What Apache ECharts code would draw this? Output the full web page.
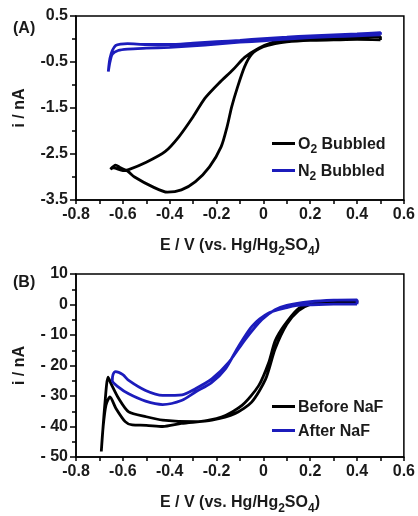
<!DOCTYPE html>
<html>
<head>
<meta charset="utf-8">
<script src="https://cdn.jsdelivr.net/npm/echarts@6/dist/echarts.min.js"></script>
<style>html,body{margin:0;padding:0;background:#fff;}#c{width:418px;height:516px;}</style>
</head>
<body>
<div id="c"></div>
<script>
// Panel A: O2 bubbled (black)
var o2E = [0.5, 0.4, 0.3, 0.2, 0.1, 0.05, 0.0, -0.05, -0.08, -0.11, -0.135, -0.155, -0.18, -0.23, -0.29, -0.35, -0.41, -0.47, -0.55, -0.58, -0.61, -0.631, -0.653,
           -0.64, -0.6, -0.575, -0.5, -0.42, -0.36, -0.3, -0.25, -0.19, -0.13, -0.08, -0.02, 0.04, 0.1, 0.2, 0.3, 0.4, 0.5, 0.5];
var o2I = [-0.02, -0.01, -0.02, -0.03, -0.06, -0.1, -0.17, -0.33, -0.6, -1.04, -1.47, -1.91, -2.34, -2.78, -3.1, -3.28, -3.33, -3.22, -3.0, -2.87, -2.8, -2.74, -2.83,
           -2.8, -2.86, -2.84, -2.68, -2.45, -2.12, -1.69, -1.29, -0.96, -0.67, -0.4, -0.2, -0.07, -0.02, 0.0, 0.02, 0.03, 0.05, -0.02];
// Panel A: N2 bubbled (blue)
var n2E = [0.5, 0.4, 0.3, 0.2, 0.1, 0.0, -0.1, -0.2, -0.3, -0.4, -0.5, -0.58, -0.62, -0.645, -0.655, -0.662,
           -0.66, -0.655, -0.645, -0.63, -0.61, -0.58, -0.5, -0.4, -0.3, -0.2, -0.1, 0.0, 0.1, 0.2, 0.3, 0.4, 0.5, 0.5];
var n2I = [0.09, 0.07, 0.05, 0.03, 0.0, -0.04, -0.07, -0.11, -0.15, -0.18, -0.2, -0.22, -0.25, -0.33, -0.5, -0.71,
           -0.6, -0.42, -0.25, -0.14, -0.11, -0.1, -0.12, -0.12, -0.09, -0.06, -0.03, 0.01, 0.04, 0.07, 0.09, 0.11, 0.14, 0.09];
// Panel B: before NaF (black)
var bfE = [0.4, 0.3, 0.25, 0.2, 0.15, 0.1, 0.05, 0.01, -0.05, -0.12, -0.22, -0.35, -0.43, -0.5, -0.56, -0.59, -0.63, -0.655, -0.672, -0.684, -0.692,
           -0.676, -0.663, -0.65, -0.617, -0.575, -0.5, -0.43, -0.29, -0.176, -0.09, -0.02, 0.023, 0.05, 0.087, 0.144, 0.2, 0.286, 0.4, 0.4];
var bfI = [0.6, 0.8, 0.6, 0.0, -2.0, -6.5, -14.6, -24.4, -32, -35.7, -37.9, -39, -40, -39.6, -39.5, -38.4, -34, -30.3, -33, -40, -48.2,
           -32, -23.8, -26, -30.9, -35.2, -36.8, -37.9, -38.4, -36.8, -33, -26.6, -19, -12, -7.1, -1.7, 0.5, 1.0, 1.2, 0.6];
// Panel B: after NaF (blue)
var afE = [0.4, 0.3, 0.2, 0.144, 0.1, 0.023, -0.048, -0.105, -0.162, -0.22, -0.29, -0.347, -0.43, -0.503, -0.575, -0.62, -0.645,
           -0.642, -0.631, -0.6, -0.575, -0.503, -0.43, -0.347, -0.29, -0.22, -0.148, -0.077, -0.006, 0.05, 0.1, 0.2, 0.3, 0.4, 0.4];
var afI = [0.1, 0.1, -0.1, -0.3, -1.0, -2.8, -7.1, -13.6, -21.1, -25.5, -28.7, -31.4, -32.8, -31.7, -29.3, -27, -25,
           -23, -22, -23, -24.9, -28.2, -29.8, -29.6, -27.6, -24.4, -19, -11.4, -4.9, -1.7, -0.3, 0.9, 1.4, 1.5, 0.1];

var xTicks = {min: -0.8, max: 0.6, interval: 0.2};
var yTicksA = {min: -3.5, max: 0.5, interval: 1};
var yTicksB = {min: -50, max: 10, interval: 10};

function pairs(E, I) { return E.map(function (e, k) { return [e, I[k]]; }); }

var FONT = 'Liberation Sans, Arial, sans-serif';
var TXT = '#1a1a1a';
var BLUE = '#1c1cbc';
var subRich = {
  n: {fontSize: 16, fontWeight: 'bold', fontFamily: FONT, color: TXT, lineHeight: 19, verticalAlign: 'bottom'},
  s: {fontSize: 12, fontWeight: 'bold', fontFamily: FONT, color: TXT, lineHeight: 19, verticalAlign: 'bottom', padding: [0, 0, -3, 0]}
};
var nameRich = {
  n: {fontSize: 16, fontWeight: 'bold', fontFamily: FONT, color: TXT, lineHeight: 20, verticalAlign: 'bottom'},
  s: {fontSize: 12, fontWeight: 'bold', fontFamily: FONT, color: TXT, lineHeight: 20, verticalAlign: 'bottom', padding: [0, 0, -4, 0]}
};

function xAxis(gi) {
  return {
    type: 'value', gridIndex: gi, min: xTicks.min, max: xTicks.max, interval: xTicks.interval,
    name: '{n|E / V (vs. Hg/Hg}{s|2}{n|SO}{s|4}{n|)}', nameLocation: 'middle', nameGap: 34,
    nameTextStyle: {rich: nameRich},
    axisLine: {show: true, onZero: false, lineStyle: {color: '#000', width: 1.5}},
    axisTick: {show: true, inside: false, length: 4, lineStyle: {color: '#000', width: 1.5}},
    minorTick: {show: true, splitNumber: 2, length: 4, lineStyle: {color: '#000', width: 1.5}},
    splitLine: {show: false},
    axisLabel: {margin: 7, color: TXT, fontSize: 16, fontWeight: 'bold', fontFamily: FONT,
      formatter: function (v) { return Math.abs(v) < 1e-9 ? '0' : v.toFixed(1); }}
  };
}
function yAxis(gi, t, fmt) {
  return {
    type: 'value', gridIndex: gi, min: t.min, max: t.max, interval: t.interval,
    name: 'i / nA', nameLocation: 'middle', nameGap: 48,
    nameTextStyle: {fontSize: 16, fontWeight: 'bold', fontFamily: FONT, color: TXT},
    axisLine: {show: true, onZero: false, lineStyle: {color: '#000', width: 1.5}},
    axisTick: {show: true, inside: false, length: 6, lineStyle: {color: '#000', width: 1.5}},
    minorTick: {show: true, splitNumber: 2, length: 4, lineStyle: {color: '#000', width: 1.5}},
    splitLine: {show: false},
    axisLabel: {margin: 8, color: TXT, fontSize: 16, fontWeight: 'bold', fontFamily: FONT, formatter: fmt}
  };
}

var chart = echarts.init(document.getElementById('c'), null, {renderer: 'canvas'});
chart.setOption({
  animation: false,
  backgroundColor: '#fff',
  grid: [
    {left: 76, top: 16, width: 329, height: 184, show: true, borderColor: '#000', borderWidth: 1.5, backgroundColor: 'transparent'},
    {left: 76, top: 274, width: 329, height: 185, show: true, borderColor: '#000', borderWidth: 1.5, backgroundColor: 'transparent'}
  ],
  xAxis: [xAxis(0), xAxis(1)],
  yAxis: [
    yAxis(0, yTicksA, function (v) { return v.toFixed(1); }),
    yAxis(1, yTicksB, function (v) { return v < 0 ? '- ' + (-v) : String(v); })
  ],
  legend: [
    {data: ['O2 Bubbled', 'N2 Bubbled'], orient: 'vertical', left: 267, top: 132, itemGap: 8,
     itemWidth: 23, itemHeight: 3, icon: 'rect',
     formatter: function (n) { return '{n|' + n.charAt(0) + '}{s|2}{n|' + n.slice(2) + '}'; },
     textStyle: {rich: subRich, padding: [0, 0, 0, -2]}},
    {data: ['Before NaF', 'After NaF'], orient: 'vertical', left: 267, top: 395, itemGap: 8,
     itemWidth: 23, itemHeight: 3, icon: 'rect',
     formatter: function (n) { return '{n|' + n + '}'; },
     textStyle: {rich: subRich, padding: [0, 0, 0, -2]}}
  ],
  graphic: [
    {type: 'text', left: 13, top: 21, style: {text: '(A)', font: 'bold 16px ' + FONT, fill: TXT}},
    {type: 'text', left: 13, top: 275, style: {text: '(B)', font: 'bold 16px ' + FONT, fill: TXT}}
  ],
  series: [
    {name: 'O2 Bubbled', type: 'line', xAxisIndex: 0, yAxisIndex: 0, data: pairs(o2E, o2I), showSymbol: false, smooth: 0.25,
     lineStyle: {color: '#000', width: 2.8}, itemStyle: {color: '#000'}},
    {name: 'N2 Bubbled', type: 'line', xAxisIndex: 0, yAxisIndex: 0, data: pairs(n2E, n2I), showSymbol: false, smooth: 0.25,
     lineStyle: {color: BLUE, width: 2.8}, itemStyle: {color: BLUE}},
    {name: 'Before NaF', type: 'line', xAxisIndex: 1, yAxisIndex: 1, data: pairs(bfE, bfI), showSymbol: false, smooth: 0.25,
     lineStyle: {color: '#000', width: 2.8}, itemStyle: {color: '#000'}},
    {name: 'After NaF', type: 'line', xAxisIndex: 1, yAxisIndex: 1, data: pairs(afE, afI), showSymbol: false, smooth: 0.25,
     lineStyle: {color: BLUE, width: 2.8}, itemStyle: {color: BLUE}}
  ]
});
</script>
</body>
</html>
